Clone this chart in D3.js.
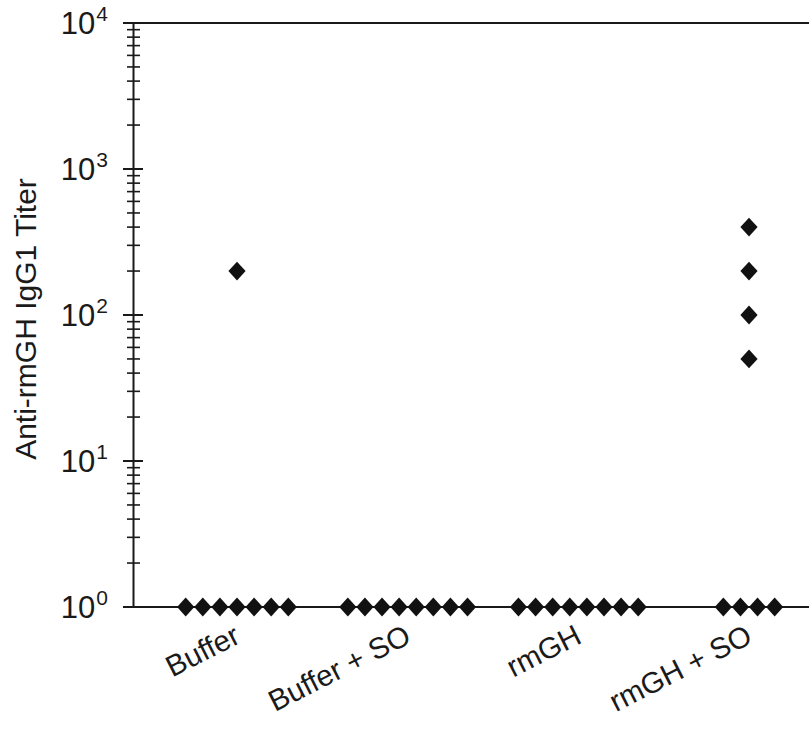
<!DOCTYPE html>
<html><head><meta charset="utf-8">
<script src="https://cdn.jsdelivr.net/npm/d3@7"></script>
<style>body{margin:0;background:#fff}svg{display:block}text{font-family:"Liberation Sans",Arial,sans-serif;fill:#1a1a1a}</style>
</head><body><div id="chart"></div>
<script>
const categories = ["Buffer", "Buffer + SO", "rmGH", "rmGH + SO"];
const bufferValues = [200, 1, 1, 1, 1, 1, 1, 1];
const bufferSOValues = [1, 1, 1, 1, 1, 1, 1, 1];
const rmGHValues = [1, 1, 1, 1, 1, 1, 1, 1];
const rmGHSOValues = [400, 200, 100, 50, 1, 1, 1, 1];
const yTickExponents = [0, 1, 2, 3, 4];
const yLabel = "Anti-rmGH IgG1 Titer";

const seriesByCat = [bufferValues, bufferSOValues, rmGHValues, rmGHSOValues];

const W = 809, H = 730;
const m = {left: 133, top: 23, bottom: 607};
const svg = d3.select("#chart").append("svg").attr("width", W).attr("height", H);

const y = d3.scaleLog().domain([1, 1e4]).range([m.bottom, m.top]);
const x = d3.scalePoint().domain(categories).range([237, 749]);
const spread = 17.1;

const ink = "#1a1a1a";
const yAxis = d3.axisLeft(y).tickValues([]).tickSizeOuter(0);
const gy = svg.append("g").attr("transform", `translate(${m.left},0)`).call(yAxis);
gy.select(".domain").attr("stroke", ink).attr("stroke-width", 2);
const minor = [];
for (let e = 0; e < 4; e++) for (let k = 2; k <= 9; k++) minor.push(k * Math.pow(10, e));
gy.selectAll(".minor").data(minor).enter().append("line")
  .attr("x1", -6).attr("x2", 7).attr("y1", d => y(d)).attr("y2", d => y(d))
  .attr("stroke", ink).attr("stroke-width", 1.6);
gy.selectAll(".major").data(yTickExponents.slice(1, 4)).enter().append("line")
  .attr("x1", -10).attr("x2", 10).attr("y1", d => y(Math.pow(10, d))).attr("y2", d => y(Math.pow(10, d)))
  .attr("stroke", ink).attr("stroke-width", 2);
const tl = gy.selectAll(".tl").data(yTickExponents).enter().append("text")
  .attr("x", -25).attr("y", d => y(Math.pow(10, d)) + 11)
  .attr("text-anchor", "end").style("font-size", "31px");
tl.append("tspan").text("10");
tl.append("tspan").attr("dy", -13).attr("dx", 1).style("font-size", "21px").text(d => d);

svg.append("line").attr("x1", m.left - 10).attr("x2", W).attr("y1", y(1e4)).attr("y2", y(1e4)).attr("stroke", ink).attr("stroke-width", 2);
svg.append("line").attr("x1", m.left - 10).attr("x2", W).attr("y1", y(1)).attr("y2", y(1)).attr("stroke", ink).attr("stroke-width", 2);

svg.append("text").attr("transform", `translate(36,${(y(1)+y(1e4))/2 + 4}) rotate(-90)`)
  .attr("text-anchor", "middle").style("font-size", "30px").text(yLabel);

const pts = [];
categories.forEach((c, i) => {
  const vals = seriesByCat[i];
  const groups = d3.group(vals, v => v);
  groups.forEach((arr, v) => {
    arr.forEach((_, k) => pts.push({c, v, off: (k - (arr.length - 1) / 2) * spread}));
  });
});
const dw = 8.6, dh = 9.4;
svg.append("g").selectAll("path").data(pts).enter().append("path")
  .attr("transform", d => `translate(${x(d.c) + d.off},${y(d.v)})`)
  .attr("d", `M0,${-dh}L${dw},0L0,${dh}L${-dw},0Z`).attr("fill", "#111");

svg.append("g").selectAll("text").data(categories).enter().append("text")
  .attr("transform", d => `translate(${x(d) + 5},${y(1) + 35}) rotate(-27)`)
  .attr("text-anchor", "end").style("font-size", "29.5px").text(d => d);
</script></body></html>
